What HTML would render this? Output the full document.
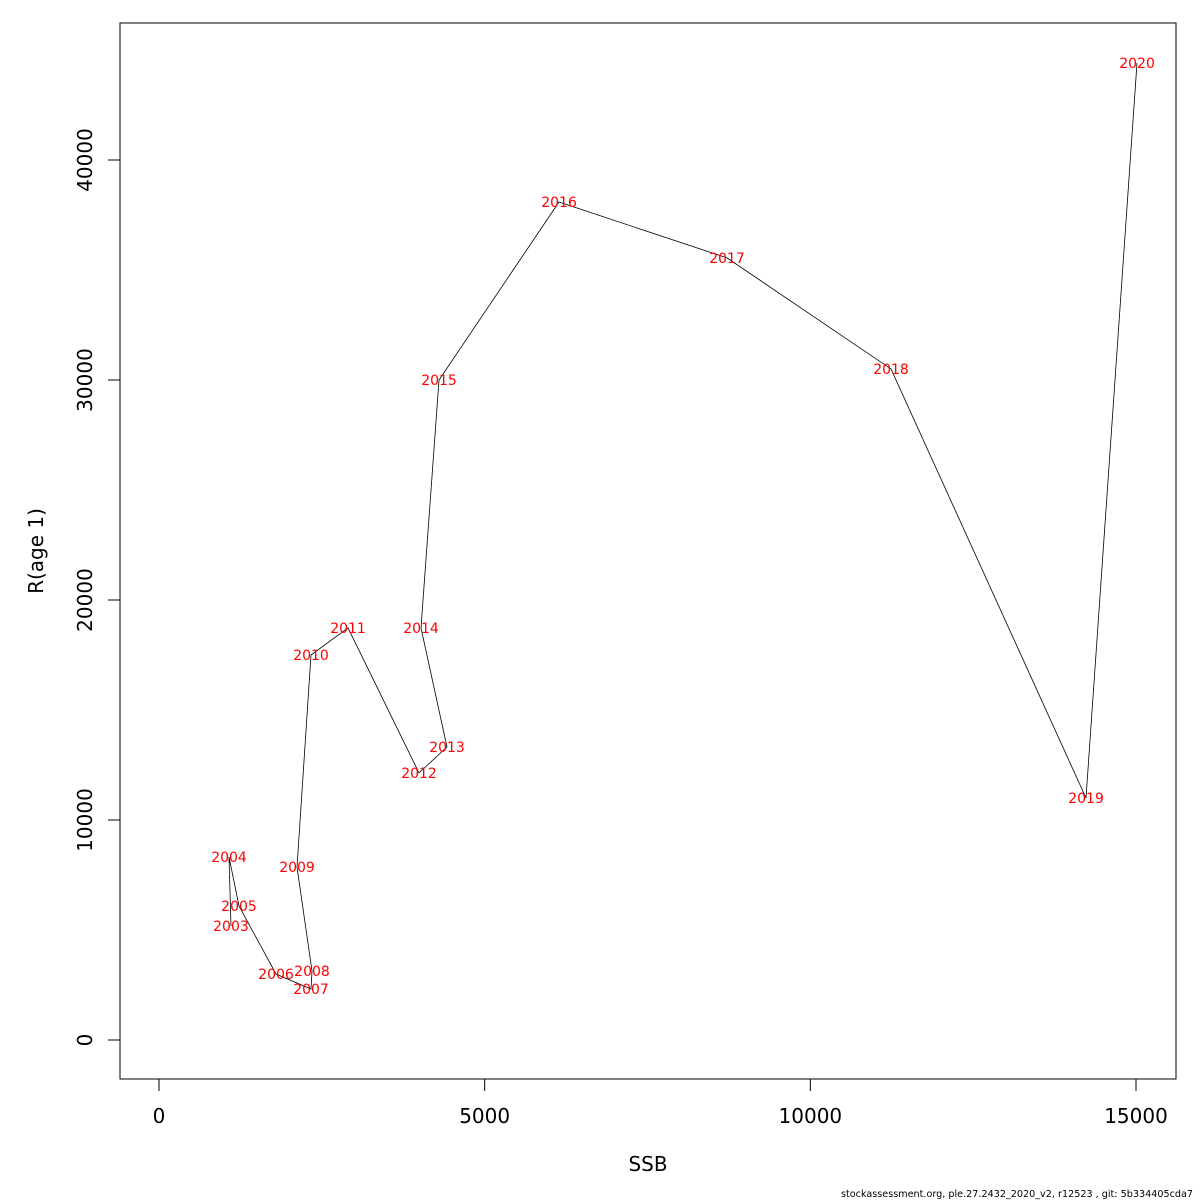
<!DOCTYPE html>
<html><head><meta charset="utf-8"><style>
html,body{margin:0;padding:0;background:#fff;}
svg{display:block;font-family:"DejaVu Sans","Liberation Sans",sans-serif;}
</style></head><body>
<svg id="chart" width="1200" height="1200" viewBox="0 0 1200 1200" xmlns="http://www.w3.org/2000/svg">
<rect x="0" y="0" width="1200" height="1200" fill="#fff"/>
<rect x="120" y="23" width="1056" height="1056" fill="none" stroke="#000" stroke-width="1"/>
<g id="xaxis"></g>
<g id="yaxis"></g>
<g id="series"></g>
<text x="648" y="1171" font-size="20" text-anchor="middle">SSB</text>
<text x="0" y="0" font-size="20" text-anchor="middle" transform="translate(43,551) rotate(-90)">R(age 1)</text>
<text x="841" y="1197" font-size="10" textLength="352" lengthAdjust="spacingAndGlyphs">stockassessment.org, ple.27.2432_2020_v2, r12523 , git: 5b334405cda7</text>
</svg>
<script>
const years=["2003","2004","2005","2006","2007","2008","2009","2010","2011","2012","2013","2014","2015","2016","2017","2018","2019","2020"];
const ssb=[1105,1075,1228,1796,2334,2349,2119,2334,2902,3992,4422,4023,4299,6142,8721,11239,14233,15016];
const rec=[5180,8320,6090,3000,2320,3140,7860,17500,18730,12140,13320,18730,30000,38090,35550,30500,11000,44410];
const xTicks=[0,5000,10000,15000];
const yTicks=[0,10000,20000,30000,40000];
const NS="http://www.w3.org/2000/svg";
function sx(v){return 159+v*(1136-159)/15000;}
function sy(v){return 1040-v*(1040-160)/40000;}
function mk(tag,attrs,parent){const e=document.createElementNS(NS,tag);for(const k in attrs)e.setAttribute(k,attrs[k]);parent.appendChild(e);return e;}
const xa=document.getElementById('xaxis'),ya=document.getElementById('yaxis'),se=document.getElementById('series');
let l=mk('line',{x1:sx(xTicks[0]),x2:sx(xTicks[xTicks.length-1]),y1:1079,y2:1079,stroke:'#000'},xa);


xTicks.forEach(t=>{
 const tk=mk('line',{x1:sx(t),x2:sx(t),y1:1079,y2:1091,stroke:'#000'},xa);
 
 
 const tx=mk('text',{x:sx(t),y:1123,'font-size':20,'text-anchor':'middle'},xa);
 tx.textContent=t;
 
 
});
l=mk('line',{x1:120,x2:120,y1:sy(yTicks[0]),y2:sy(yTicks[yTicks.length-1]),stroke:'#000'},ya);


yTicks.forEach(t=>{
 const tk=mk('line',{x1:108,x2:120,y1:sy(t),y2:sy(t),stroke:'#000'},ya);
 
 
 const tx=mk('text',{x:0,y:0,'font-size':20,'text-anchor':'middle',transform:'translate(92,'+sy(t)+') rotate(-90)'},ya);
 tx.textContent=t;
 
 
});
const pts=ssb.map((v,i)=>sx(v).toFixed(1)+','+sy(rec[i]).toFixed(1)).join(' ');
const pl=mk('polyline',{points:pts,fill:'none',stroke:'#000','stroke-width':0.8},se);


years.forEach((y,i)=>{
 const tx=mk('text',{x:sx(ssb[i]),y:sy(rec[i])+5,'font-size':14,'text-anchor':'middle',fill:'#ff0000'},se);
 tx.textContent=y;
 
 
});
</script>
</body></html>
